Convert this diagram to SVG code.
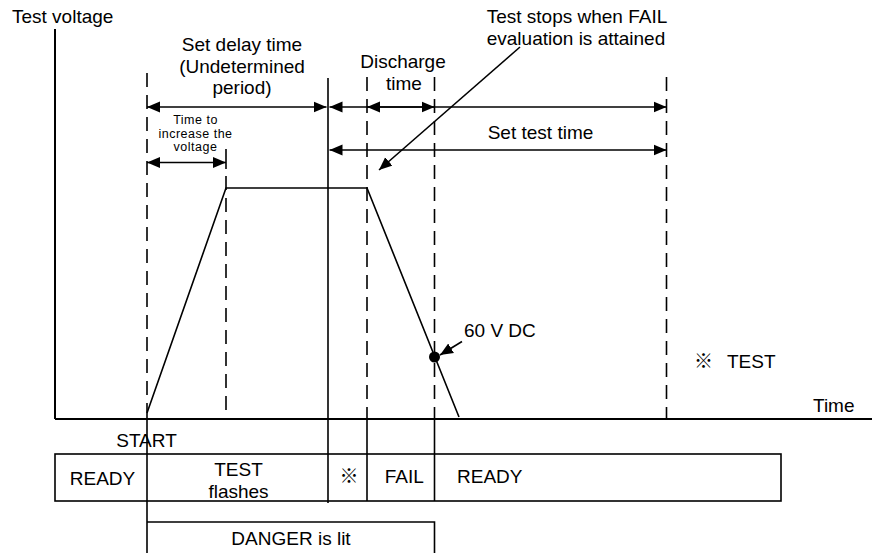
<svg xmlns="http://www.w3.org/2000/svg" width="872" height="553" viewBox="0 0 872 553">
<style>
  .t{font-family:"Liberation Sans","Noto Sans CJK JP",Arial,sans-serif;font-size:19px;fill:#000}
  .s{font-family:"Liberation Sans",Arial,sans-serif;font-size:12.5px;letter-spacing:0.5px;fill:#000}
  .m{text-anchor:middle}
  .ln{stroke:#000;stroke-width:1.6;fill:none}
  .ax{stroke:#000;stroke-width:2;fill:none}
  .dash{stroke:#000;stroke-width:1.6;fill:none;stroke-dasharray:14 8}
  .dim{stroke:#000;stroke-width:1.6;fill:none;marker-start:url(#ah);marker-end:url(#ah)}
  .one{stroke:#000;stroke-width:1.6;fill:none;marker-end:url(#ah)}
</style>
<defs>
  <marker id="ah" markerUnits="userSpaceOnUse" markerWidth="14" markerHeight="12" refX="13" refY="5.5" orient="auto-start-reverse" viewBox="0 0 14 11">
    <path d="M0,0 L13,5.5 L0,11 z" fill="#000"/>
  </marker>
</defs>
<rect width="872" height="553" fill="#fff"/>

<g id="axes">
  <line class="ax" x1="55" y1="29" x2="55" y2="419"/>
  <line class="ax" x1="55" y1="419" x2="872" y2="419"/>
  <text class="t" x="12" y="23">Test voltage</text>
  <text class="t" x="813" y="412">Time</text>
</g>

<g id="guides">
  <line class="dash" x1="147" y1="73" x2="147" y2="413"/>
  <line class="ln" x1="147" y1="413" x2="147" y2="553"/>
  <line class="ln" x1="226" y1="149" x2="226" y2="169"/>
  <line class="dash" x1="226" y1="176" x2="226" y2="419"/>
  <line class="ln" x1="328" y1="78" x2="328" y2="503"/>
  <line class="dash" x1="367" y1="77" x2="367" y2="419"/>
  <line class="ln" x1="367" y1="419" x2="367" y2="501"/>
  <line class="dash" x1="434.5" y1="77" x2="434.5" y2="419"/>
  <line class="ln" x1="434.5" y1="419" x2="434.5" y2="501"/>
  <line class="dash" x1="666.5" y1="77" x2="666.5" y2="419"/>
</g>

<g id="waveform">
  <polyline class="ln" points="147,413 226,188 367,188 459,417"/>
  <circle cx="434.5" cy="357" r="5.5" fill="#000"/>
</g>

<g id="connectors">
  <line class="dim" x1="147" y1="107" x2="326.5" y2="107"/>
  <line class="dim" x1="329.5" y1="107" x2="666.5" y2="107"/>
  <line class="dim" x1="367" y1="107" x2="434.5" y2="107"/>
  <line class="dim" x1="329.5" y1="150" x2="666.5" y2="150"/>
  <line class="dim" x1="147" y1="162.5" x2="226" y2="162.5"/>
  <line class="one" x1="520" y1="47" x2="379" y2="170"/>
  <line class="one" x1="462" y1="341.5" x2="440" y2="355"/>
</g>

<g id="label-delay">
  <text class="t m" x="242" y="51">Set delay time</text>
  <text class="t m" x="242" y="72.5">(Undetermined</text>
  <text class="t m" x="242" y="94">period)</text>
</g>
<g id="label-increase">
  <text class="s m" x="195.5" y="124">Time to</text>
  <text class="s m" x="195.5" y="137.5">increase the</text>
  <text class="s m" x="195.5" y="151">voltage</text>
</g>
<g id="label-discharge">
  <text class="t m" x="403" y="68">Discharge</text>
  <text class="t m" x="404" y="90">time</text>
</g>
<g id="label-stops">
  <text class="t m" x="577" y="23">Test stops when FAIL</text>
  <text class="t m" x="576" y="45">evaluation is attained</text>
</g>
<g id="label-testtime">
  <text class="t m" x="540.5" y="139">Set test time</text>
</g>
<g id="label-60v">
  <text class="t" x="464" y="337">60 V DC</text>
</g>
<g id="label-note">
  <text class="t" x="694" y="368">※ <tspan x="727">TEST</tspan></text>
</g>

<g id="status-bar">
  <rect class="ln" x="55" y="454" width="726" height="47"/>
  <text class="t m" x="146.5" y="447">START</text>
  <text class="t m" x="102.5" y="485">READY</text>
  <text class="t m" x="238.5" y="476">TEST</text>
  <text class="t m" x="238.5" y="498">flashes</text>
  <text class="t m" x="349" y="483">※</text>
  <text class="t m" x="404.3" y="483">FAIL</text>
  <text class="t" x="457" y="483">READY</text>
</g>

<g id="danger">
  <path class="ln" d="M147,522 H434.5 V553"/>
  <text class="t m" x="291" y="545">DANGER is lit</text>
</g>
</svg>
